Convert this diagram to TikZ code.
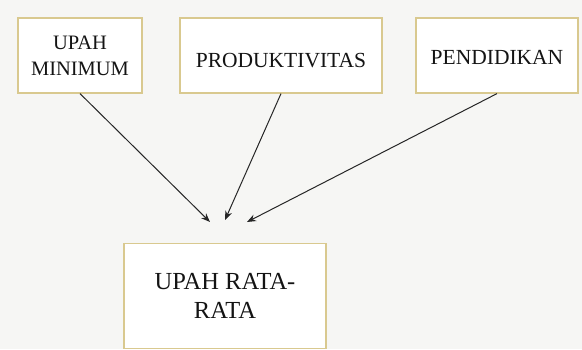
\documentclass[tikz,border=0pt]{standalone}
\usepackage{fontspec}
\setmainfont{Liberation Serif}
\usetikzlibrary{arrows.meta}
\definecolor{pagebg}{HTML}{F6F6F4}
\definecolor{boxline}{HTML}{D9C98F}
\definecolor{arrowink}{HTML}{262626}
\tikzset{
  factor/.style={draw=boxline, line width=1.2pt, fill=white, inner sep=0pt,
    align=center, text=black!92, font=\fontsize{20.5}{26}\selectfont},
  wide/.style={font=\fontsize{21.5}{26}\selectfont, text depth=0pt},
  outcome/.style={factor, font=\fontsize{24.5}{29}\selectfont},
  link/.style={draw=arrowink, line width=1pt, -{Stealth[length=9pt,width=7pt]}}
}
\begin{document}
\begin{tikzpicture}[x=1pt,y=-1pt]
  \fill[pagebg] (0,0) rectangle (582,349);
  \useasboundingbox (0,0) rectangle (582,349);

  % influencing factors (text height sets where the single lines sit)
  \node[factor, minimum width=124pt, minimum height=75pt] (b1) at (80,55.5) {UPAH\\MINIMUM};
  \node[factor, wide, text height=23pt, minimum width=202pt, minimum height=75pt] (b2) at (281,55.5) {PRODUKTIVITAS};
  \node[factor, wide, text height=18.5pt, minimum width=162pt, minimum height=75pt] (b3) at (497,55.5) {PENDIDIKAN};

  % outcome
  \node[outcome, minimum width=202pt, minimum height=105pt] (b4) at (225,296) {UPAH RATA-\\RATA};

  % arrow tips stop short of the outcome box
  \coordinate (t1) at (210,222);
  \coordinate (t2) at (225,220);
  \coordinate (t3) at (247,222);

  \draw[link] (b1.south) -- (t1);
  \draw[link] (b2.south) -- (t2);
  \draw[link] (b3.south) -- (t3);
\end{tikzpicture}
\end{document}
